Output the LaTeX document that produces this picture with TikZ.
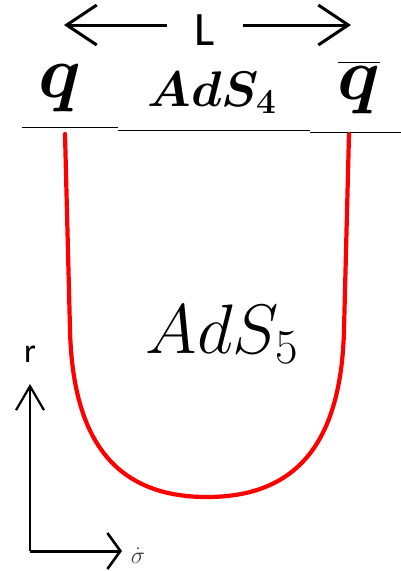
\documentclass[tikz,border=0pt]{standalone}
\usepackage{fix-cm}
\usepackage{amsmath,bm}
\usepackage{fontspec}
\newfontfamily\calib{Carlito}
\usetikzlibrary{arrows.meta}
\begin{document}
\begin{tikzpicture}[x=1pt,y=-1pt,
  toparrow/.style={line width=3pt,-{Straight Barb[length=30pt,width=40pt,line width=3pt]}},
  axisarrow/.style={line width=2.2pt,-{Straight Barb[length=24pt,width=28pt,line width=2.2pt]}},
  haxisarrow/.style={line width=3pt,-{Straight Barb[length=13pt,width=36pt,line width=2.6pt]}},
  surface/.style={line width=1pt,black},
  string/.style={line width=4.2pt,red,line cap=round,line join=round},
  lbl/.style={inner sep=0pt,anchor=base}]
\useasboundingbox[fill=white] (0,0) rectangle (401,571);
% top L arrows
\node[lbl,font=\calib\fontsize{48}{48}\selectfont] (L) at (205,45) {L};
\coordinate (la) at (167,25);
\coordinate (lb) at (64,25);
\coordinate (ra) at (243,25);
\coordinate (rb) at (351,25);
\draw[toparrow] (la) -- (lb);
\draw[toparrow] (ra) -- (rb);
% labels
\node[lbl,font=\fontsize{74}{74}\selectfont] (q) at (60,97) {$\bm{q}$};
\node[lbl,font=\fontsize{50}{50}\selectfont] (ads4) at (212,106) {$\bm{AdS_4}$};
\node[lbl,font=\fontsize{74}{74}\selectfont] (qb) at (359,99) {$\overline{\bm{q}}$};
% boundary lines
\coordinate (s1) at (22,127);
\coordinate (s2) at (118,127);
\coordinate (s3) at (118,130);
\coordinate (s4) at (310,130);
\coordinate (s5) at (310,132);
\coordinate (s6) at (401,132);
\draw[surface] (s1) -- (s2);
\draw[surface] (s3) -- (s4);
\draw[surface] (s5) -- (s6);
% string
\coordinate (ql) at (65,134);
\coordinate (qr) at (349,134);
\draw[string] (ql) -- (70,330) .. controls (72.8,440) and (115,497) .. (207,497)
  .. controls (299,497) and (341.2,440) .. (344,330) -- (qr);
% AdS5
\node[lbl,font=\fontsize{70}{70}\selectfont] (ads5) at (222,353) {$AdS_5$};
% axes
\coordinate (o) at (30,551);
\coordinate (ry) at (30,384);
\coordinate (sx) at (122,551);
\draw[axisarrow] (o) -- (ry);
\draw[haxisarrow] (o) -- (sx);
\node[lbl,font=\calib\fontsize{34}{34}\selectfont] (r) at (30,362) {r};
\node[lbl,font=\fontsize{24}{24}\selectfont,text=black!75] (sig) at (138,563) {$\dot{\sigma}$};
\end{tikzpicture}
\end{document}
